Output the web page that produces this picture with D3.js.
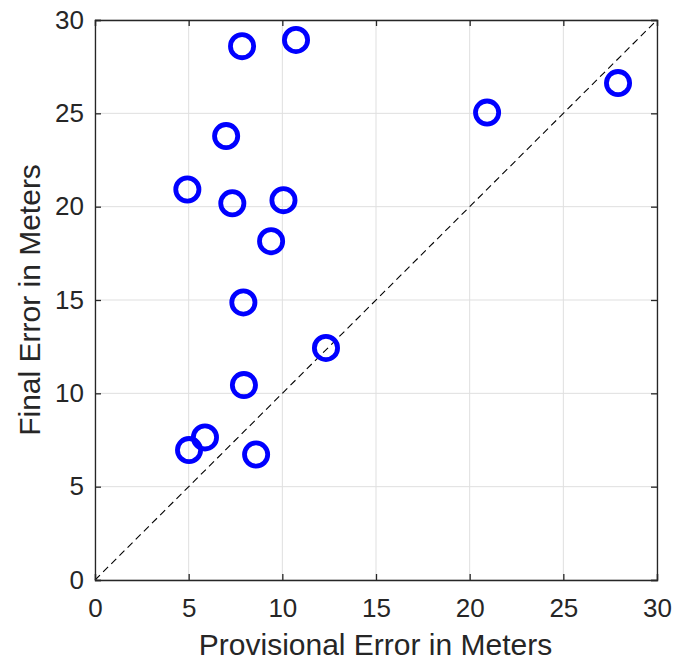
<!DOCTYPE html>
<html><head><meta charset="utf-8">
<script src="https://cdn.jsdelivr.net/npm/d3@7"></script>
<style>body{margin:0;background:#fff}svg{display:block}</style>
</head><body>
<script>
const provisional = [7.85, 10.73, 7.0, 4.93, 7.33, 10.06, 9.4, 7.92, 12.33, 7.95, 5.87, 5.02, 8.6, 20.93, 27.92];
const finalErr    = [28.6, 28.93, 23.78, 20.92, 20.18, 20.35, 18.15, 14.87, 12.43, 10.44, 7.64, 6.96, 6.72, 25.04, 26.62];
const xTicks = [0, 5, 10, 15, 20, 25, 30];
const yTicks = [0, 5, 10, 15, 20, 25, 30];
const diagonal = [[0, 0], [30, 30]];

const W = 684, H = 662;
const m = {left: 95, right: 27, top: 20, bottom: 82};
const pw = W - m.left - m.right, ph = H - m.top - m.bottom;
const svg = d3.select("body").append("svg").attr("width", W).attr("height", H);
const g = svg.append("g").attr("transform", `translate(${m.left},${m.top})`);
const x = d3.scaleLinear().domain([0, 30]).range([0, pw]);
const y = d3.scaleLinear().domain([0, 30]).range([ph, 0]);
const font = "'Liberation Sans', Arial, Helvetica, sans-serif";
const ink = "#262626";

// grid
g.selectAll(".gx").data(xTicks).enter().append("line")
  .attr("x1", d => x(d)).attr("x2", d => x(d)).attr("y1", 0).attr("y2", ph)
  .attr("stroke", "#dfdfdf").attr("stroke-width", 1);
g.selectAll(".gy").data(yTicks).enter().append("line")
  .attr("y1", d => y(d)).attr("y2", d => y(d)).attr("x1", 0).attr("x2", pw)
  .attr("stroke", "#dfdfdf").attr("stroke-width", 1);

// diagonal
g.append("line")
  .attr("x1", x(diagonal[0][0])).attr("y1", y(diagonal[0][1]))
  .attr("x2", x(diagonal[1][0])).attr("y2", y(diagonal[1][1]))
  .attr("stroke", "#000").attr("stroke-width", 1.1).attr("stroke-dasharray", "7,4.5");

// axes
const xAxis = d3.axisBottom(x).tickValues(xTicks).tickSize(-6).tickPadding(19).tickFormat(d3.format("d"));
const yAxis = d3.axisLeft(y).tickValues(yTicks).tickSize(-6).tickPadding(11).tickFormat(d3.format("d"));
const xTop = d3.axisTop(x).tickValues(xTicks).tickSize(-6).tickFormat("");
const yRight = d3.axisRight(y).tickValues(yTicks).tickSize(-6).tickFormat("");
function style(sel){
  sel.selectAll("path").attr("stroke", ink).attr("stroke-width", 1.3);
  sel.selectAll("line").attr("stroke", ink).attr("stroke-width", 1.3);
  sel.selectAll("text").attr("fill", ink).style("font-family", font).style("font-size", "26px");
}
g.append("g").attr("transform", `translate(0,${ph})`).call(xAxis).call(style);
g.append("g").call(yAxis).call(style);
g.append("g").call(xTop).call(style);
g.append("g").attr("transform", `translate(${pw},0)`).call(yRight).call(style);

// points
g.selectAll(".pt").data(provisional).enter().append("circle")
  .attr("cx", d => x(d)).attr("cy", (d, i) => y(finalErr[i]))
  .attr("r", 11.6).attr("fill", "none").attr("stroke", "#0000ff").attr("stroke-width", 4.8);

// labels
svg.append("text").attr("x", m.left + pw / 2 - 0.5).attr("y", 655)
  .attr("text-anchor", "middle").attr("fill", ink)
  .style("font-family", font).style("font-size", "30px")
  .text("Provisional Error in Meters");
svg.append("text").attr("transform", `translate(40,${m.top + ph / 2}) rotate(-90)`)
  .attr("text-anchor", "middle").attr("fill", ink)
  .style("font-family", font).style("font-size", "30px")
  .text("Final Error in Meters");
</script>
</body></html>
